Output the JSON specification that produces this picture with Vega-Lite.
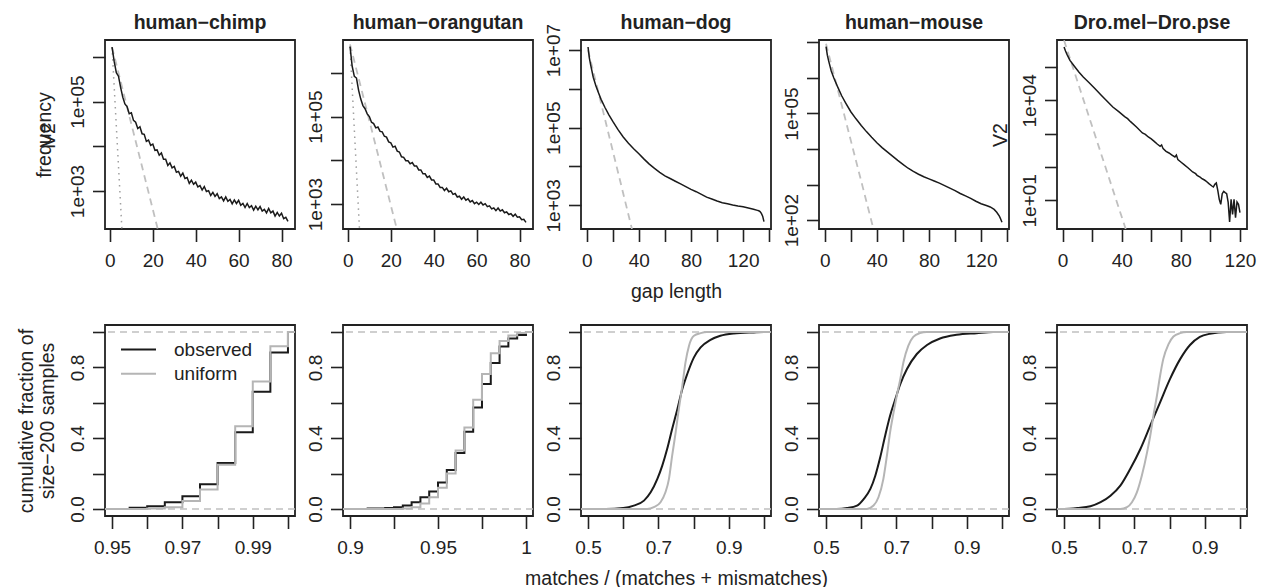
{
"$schema": "https://vega.github.io/schema/vega-lite/v6.json",
"padding": {"left": 15, "top": 11, "right": 5, "bottom": 3},
"background": "white",
"datasets": {
"gaps": [
{"p":"hc","x":1,"y":1660000},{"p":"hc","x":2,"y":794000},{"p":"hc","x":3,"y":447000},{"p":"hc","x":4,"y":372000},{"p":"hc","x":5,"y":209000},{"p":"hc","x":6,"y":126000},{"p":"hc","x":7,"y":89100},{"p":"hc","x":8,"y":77600},{"p":"hc","x":9,"y":53700},{"p":"hc","x":10,"y":56200},
{"p":"hc","x":11,"y":38000},{"p":"hc","x":12,"y":34700},{"p":"hc","x":13,"y":25100},{"p":"hc","x":14,"y":27500},{"p":"hc","x":15,"y":19100},{"p":"hc","x":16,"y":18600},{"p":"hc","x":17,"y":12900},{"p":"hc","x":18,"y":13800},{"p":"hc","x":19,"y":10500},{"p":"hc","x":20,"y":11200},
{"p":"hc","x":21,"y":8130},{"p":"hc","x":22,"y":8320},{"p":"hc","x":23,"y":6310},{"p":"hc","x":24,"y":7080},{"p":"hc","x":25,"y":5130},{"p":"hc","x":26,"y":5130},{"p":"hc","x":27,"y":3720},{"p":"hc","x":28,"y":4270},{"p":"hc","x":29,"y":3310},{"p":"hc","x":30,"y":3550},
{"p":"hc","x":31,"y":2630},{"p":"hc","x":32,"y":2750},{"p":"hc","x":33,"y":2140},{"p":"hc","x":34,"y":2510},{"p":"hc","x":35,"y":1910},{"p":"hc","x":36,"y":2000},{"p":"hc","x":37,"y":1480},{"p":"hc","x":38,"y":1740},{"p":"hc","x":39,"y":1410},{"p":"hc","x":40,"y":1580},
{"p":"hc","x":41,"y":1230},{"p":"hc","x":42,"y":1320},{"p":"hc","x":43,"y":1050},{"p":"hc","x":44,"y":1260},{"p":"hc","x":45,"y":977},{"p":"hc","x":46,"y":1020},{"p":"hc","x":47,"y":794},{"p":"hc","x":48,"y":933},{"p":"hc","x":49,"y":759},{"p":"hc","x":50,"y":871},
{"p":"hc","x":51,"y":676},{"p":"hc","x":52,"y":741},{"p":"hc","x":53,"y":603},{"p":"hc","x":54,"y":741},{"p":"hc","x":55,"y":589},{"p":"hc","x":56,"y":646},{"p":"hc","x":57,"y":513},{"p":"hc","x":58,"y":631},{"p":"hc","x":59,"y":525},{"p":"hc","x":60,"y":617},
{"p":"hc","x":61,"y":479},{"p":"hc","x":62,"y":525},{"p":"hc","x":63,"y":427},{"p":"hc","x":64,"y":525},{"p":"hc","x":65,"y":427},{"p":"hc","x":66,"y":468},{"p":"hc","x":67,"y":372},{"p":"hc","x":68,"y":457},{"p":"hc","x":69,"y":380},{"p":"hc","x":70,"y":447},
{"p":"hc","x":71,"y":355},{"p":"hc","x":72,"y":389},{"p":"hc","x":73,"y":324},{"p":"hc","x":74,"y":407},{"p":"hc","x":75,"y":324},{"p":"hc","x":76,"y":355},{"p":"hc","x":77,"y":275},{"p":"hc","x":78,"y":331},{"p":"hc","x":79,"y":275},{"p":"hc","x":80,"y":316},
{"p":"hc","x":81,"y":240},{"p":"hc","x":82,"y":257},{"p":"hc","x":83,"y":209},
{"p":"ho","x":1,"y":3980000},{"p":"ho","x":2,"y":1410000},{"p":"ho","x":3,"y":832000},{"p":"ho","x":4,"y":759000},{"p":"ho","x":5,"y":398000},{"p":"ho","x":6,"y":251000},{"p":"ho","x":7,"y":178000},{"p":"ho","x":8,"y":151000},{"p":"ho","x":9,"y":115000},{"p":"ho","x":10,"y":100000},
{"p":"ho","x":11,"y":74100},{"p":"ho","x":12,"y":69200},{"p":"ho","x":13,"y":55000},{"p":"ho","x":14,"y":57500},{"p":"ho","x":15,"y":45700},{"p":"ho","x":16,"y":44700},{"p":"ho","x":17,"y":35500},{"p":"ho","x":18,"y":33900},{"p":"ho","x":19,"y":26300},{"p":"ho","x":20,"y":25100},
{"p":"ho","x":21,"y":20000},{"p":"ho","x":22,"y":20900},{"p":"ho","x":23,"y":16200},{"p":"ho","x":24,"y":15500},{"p":"ho","x":25,"y":12000},{"p":"ho","x":26,"y":11700},{"p":"ho","x":27,"y":9770},{"p":"ho","x":28,"y":9770},{"p":"ho","x":29,"y":8320},{"p":"ho","x":30,"y":8910},
{"p":"ho","x":31,"y":7410},{"p":"ho","x":32,"y":7410},{"p":"ho","x":33,"y":6030},{"p":"ho","x":34,"y":6030},{"p":"ho","x":35,"y":4900},{"p":"ho","x":36,"y":4900},{"p":"ho","x":37,"y":4070},{"p":"ho","x":38,"y":4370},{"p":"ho","x":39,"y":3550},{"p":"ho","x":40,"y":3550},
{"p":"ho","x":41,"y":2880},{"p":"ho","x":42,"y":2880},{"p":"ho","x":43,"y":2400},{"p":"ho","x":44,"y":2400},{"p":"ho","x":45,"y":2040},{"p":"ho","x":46,"y":2290},{"p":"ho","x":47,"y":1910},{"p":"ho","x":48,"y":2000},{"p":"ho","x":49,"y":1660},{"p":"ho","x":50,"y":1740},
{"p":"ho","x":51,"y":1450},{"p":"ho","x":52,"y":1510},{"p":"ho","x":53,"y":1290},{"p":"ho","x":54,"y":1450},{"p":"ho","x":55,"y":1230},{"p":"ho","x":56,"y":1320},{"p":"ho","x":57,"y":1120},{"p":"ho","x":58,"y":1200},{"p":"ho","x":59,"y":1020},{"p":"ho","x":60,"y":1100},
{"p":"ho","x":61,"y":977},{"p":"ho","x":62,"y":1100},{"p":"ho","x":63,"y":955},{"p":"ho","x":64,"y":1020},{"p":"ho","x":65,"y":871},{"p":"ho","x":66,"y":912},{"p":"ho","x":67,"y":776},{"p":"ho","x":68,"y":813},{"p":"ho","x":69,"y":708},{"p":"ho","x":70,"y":813},
{"p":"ho","x":71,"y":692},{"p":"ho","x":72,"y":741},{"p":"ho","x":73,"y":631},{"p":"ho","x":74,"y":661},{"p":"ho","x":75,"y":575},{"p":"ho","x":76,"y":603},{"p":"ho","x":77,"y":525},{"p":"ho","x":78,"y":589},{"p":"ho","x":79,"y":501},{"p":"ho","x":80,"y":513},
{"p":"ho","x":81,"y":437},{"p":"ho","x":82,"y":447},{"p":"ho","x":83,"y":380},
{"p":"hd","x":1,"y":12000000},{"p":"hd","x":2,"y":6310000},{"p":"hd","x":3,"y":4170000},{"p":"hd","x":5,"y":2000000},{"p":"hd","x":7,"y":1200000},{"p":"hd","x":9,"y":794000},{"p":"hd","x":11,"y":537000},{"p":"hd","x":14,"y":331000},{"p":"hd","x":17,"y":214000},{"p":"hd","x":20,"y":145000},
{"p":"hd","x":24,"y":89100},{"p":"hd","x":28,"y":57500},{"p":"hd","x":32,"y":39800},{"p":"hd","x":36,"y":28800},{"p":"hd","x":40,"y":21400},{"p":"hd","x":44,"y":15500},{"p":"hd","x":48,"y":11500},{"p":"hd","x":52,"y":8910},{"p":"hd","x":56,"y":7080},{"p":"hd","x":60,"y":5750},
{"p":"hd","x":64,"y":4900},{"p":"hd","x":68,"y":4170},{"p":"hd","x":72,"y":3550},{"p":"hd","x":76,"y":3020},{"p":"hd","x":80,"y":2570},{"p":"hd","x":84,"y":2240},{"p":"hd","x":88,"y":1910},{"p":"hd","x":92,"y":1620},{"p":"hd","x":96,"y":1450},{"p":"hd","x":100,"y":1290},
{"p":"hd","x":104,"y":1170},{"p":"hd","x":108,"y":1100},{"p":"hd","x":112,"y":1020},{"p":"hd","x":116,"y":955},{"p":"hd","x":120,"y":912},{"p":"hd","x":124,"y":851},{"p":"hd","x":128,"y":794},{"p":"hd","x":131,"y":741},{"p":"hd","x":132,"y":724},{"p":"hd","x":133,"y":692},
{"p":"hd","x":134,"y":617},{"p":"hd","x":135,"y":525},{"p":"hd","x":136,"y":380},
{"p":"hm","x":1,"y":7590000},{"p":"hm","x":2,"y":4370000},{"p":"hm","x":3,"y":3020000},{"p":"hm","x":5,"y":1580000},{"p":"hm","x":7,"y":1000000},{"p":"hm","x":10,"y":550000},{"p":"hm","x":13,"y":316000},{"p":"hm","x":16,"y":200000},{"p":"hm","x":20,"y":112000},{"p":"hm","x":24,"y":70800},
{"p":"hm","x":28,"y":45700},{"p":"hm","x":32,"y":30900},{"p":"hm","x":36,"y":21400},{"p":"hm","x":40,"y":15100},{"p":"hm","x":44,"y":11000},{"p":"hm","x":48,"y":8320},{"p":"hm","x":52,"y":6310},{"p":"hm","x":56,"y":4790},{"p":"hm","x":60,"y":3720},{"p":"hm","x":64,"y":2880},
{"p":"hm","x":68,"y":2340},{"p":"hm","x":72,"y":1950},{"p":"hm","x":76,"y":1660},{"p":"hm","x":80,"y":1450},{"p":"hm","x":84,"y":1260},{"p":"hm","x":88,"y":1100},{"p":"hm","x":92,"y":933},{"p":"hm","x":96,"y":794},{"p":"hm","x":100,"y":676},{"p":"hm","x":104,"y":562},
{"p":"hm","x":108,"y":479},{"p":"hm","x":112,"y":407},{"p":"hm","x":116,"y":339},{"p":"hm","x":120,"y":288},{"p":"hm","x":124,"y":257},{"p":"hm","x":127,"y":234},{"p":"hm","x":130,"y":200},{"p":"hm","x":132,"y":166},{"p":"hm","x":134,"y":129},{"p":"hm","x":135,"y":107},
{"p":"hm","x":136,"y":87.1},
{"p":"dd","x":1,"y":398000},{"p":"dd","x":2,"y":302000},{"p":"dd","x":3,"y":240000},{"p":"dd","x":5,"y":158000},{"p":"dd","x":8,"y":105000},{"p":"dd","x":11,"y":70800},{"p":"dd","x":14,"y":50100},{"p":"dd","x":18,"y":33900},{"p":"dd","x":22,"y":22400},{"p":"dd","x":26,"y":14500},
{"p":"dd","x":30,"y":9550},{"p":"dd","x":34,"y":6310},{"p":"dd","x":38,"y":4570},{"p":"dd","x":42,"y":3240},{"p":"dd","x":44,"y":2820},{"p":"dd","x":46,"y":2290},{"p":"dd","x":50,"y":1580},{"p":"dd","x":54,"y":1050},{"p":"dd","x":56,"y":955},{"p":"dd","x":58,"y":794},
{"p":"dd","x":60,"y":700},{"p":"dd","x":62,"y":589},{"p":"dd","x":64,"y":490},{"p":"dd","x":66,"y":417},{"p":"dd","x":67,"y":457},{"p":"dd","x":68,"y":355},{"p":"dd","x":70,"y":295},{"p":"dd","x":72,"y":263},{"p":"dd","x":74,"y":229},{"p":"dd","x":76,"y":200},
{"p":"dd","x":77,"y":229},{"p":"dd","x":78,"y":166},{"p":"dd","x":80,"y":141},{"p":"dd","x":82,"y":120},{"p":"dd","x":85,"y":93.3},{"p":"dd","x":88,"y":70.8},{"p":"dd","x":90,"y":63.1},{"p":"dd","x":91,"y":56.2},{"p":"dd","x":93,"y":50.1},{"p":"dd","x":94,"y":45.7},
{"p":"dd","x":96,"y":40.7},{"p":"dd","x":97,"y":38.0},{"p":"dd","x":99,"y":31.6},{"p":"dd","x":101,"y":26.9},{"p":"dd","x":102,"y":25.1},{"p":"dd","x":103,"y":30.2},{"p":"dd","x":104,"y":33.1},{"p":"dd","x":105,"y":20.0},{"p":"dd","x":106,"y":10.7},{"p":"dd","x":107,"y":7.59},
{"p":"dd","x":108,"y":15.8},{"p":"dd","x":109,"y":18.6},{"p":"dd","x":110,"y":17.0},{"p":"dd","x":111,"y":15.8},{"p":"dd","x":112,"y":8.91},{"p":"dd","x":113,"y":2.24},{"p":"dd","x":114,"y":10.7},{"p":"dd","x":115,"y":3.80},{"p":"dd","x":116,"y":10.7},{"p":"dd","x":117,"y":3.02},
{"p":"dd","x":118,"y":8.91},{"p":"dd","x":119,"y":7.59},{"p":"dd","x":120,"y":4.27}
],
"fits": [
{"p":"hc","k":"dashed","x":1,"y":1660000},{"p":"hc","k":"dashed","x":22.3,"y":141},
{"p":"hc","k":"dotted","x":1,"y":1660000},{"p":"hc","k":"dotted","x":5.6,"y":141},
{"p":"ho","k":"dashed","x":1,"y":4470000},{"p":"ho","k":"dashed","x":22.8,"y":269},
{"p":"ho","k":"dotted","x":1,"y":3980000},{"p":"ho","k":"dotted","x":5.4,"y":269},
{"p":"hd","k":"dashed","x":1,"y":10000000},{"p":"hd","k":"dashed","x":34.7,"y":245},
{"p":"hm","k":"dashed","x":1,"y":9120000},{"p":"hm","k":"dashed","x":37.4,"y":56.2},
{"p":"dd","k":"dashed","x":1,"y":631000},{"p":"dd","k":"dashed","x":42.7,"y":1.38}
],
"cdf": [
{"p":"hc","s":"observed","x":0.948,"y":0},{"p":"hc","s":"observed","x":0.955,"y":0.006},{"p":"hc","s":"observed","x":0.96,"y":0.015},{"p":"hc","s":"observed","x":0.965,"y":0.038},{"p":"hc","s":"observed","x":0.97,"y":0.072},{"p":"hc","s":"observed","x":0.975,"y":0.14},{"p":"hc","s":"observed","x":0.98,"y":0.26},{"p":"hc","s":"observed","x":0.985,"y":0.433},{"p":"hc","s":"observed","x":0.99,"y":0.663},{"p":"hc","s":"observed","x":0.995,"y":0.885},{"p":"hc","s":"observed","x":1.0,"y":1.0},{"p":"hc","s":"observed","x":1.002,"y":1.0},
{"p":"hc","s":"uniform","x":0.948,"y":0},{"p":"hc","s":"uniform","x":0.96,"y":0.003},{"p":"hc","s":"uniform","x":0.965,"y":0.01},{"p":"hc","s":"uniform","x":0.97,"y":0.045},{"p":"hc","s":"uniform","x":0.975,"y":0.11},{"p":"hc","s":"uniform","x":0.98,"y":0.25},{"p":"hc","s":"uniform","x":0.985,"y":0.467},{"p":"hc","s":"uniform","x":0.99,"y":0.72},{"p":"hc","s":"uniform","x":0.995,"y":0.92},{"p":"hc","s":"uniform","x":1.0,"y":1.0},{"p":"hc","s":"uniform","x":1.002,"y":1.0},
{"p":"ho","s":"observed","x":0.896,"y":0},{"p":"ho","s":"observed","x":0.91,"y":0.002},{"p":"ho","s":"observed","x":0.915,"y":0.003},{"p":"ho","s":"observed","x":0.92,"y":0.005},{"p":"ho","s":"observed","x":0.925,"y":0.01},{"p":"ho","s":"observed","x":0.93,"y":0.02},{"p":"ho","s":"observed","x":0.935,"y":0.038},{"p":"ho","s":"observed","x":0.94,"y":0.066},{"p":"ho","s":"observed","x":0.945,"y":0.098},{"p":"ho","s":"observed","x":0.95,"y":0.15},{"p":"ho","s":"observed","x":0.955,"y":0.22},{"p":"ho","s":"observed","x":0.96,"y":0.316},{"p":"ho","s":"observed","x":0.965,"y":0.437},{"p":"ho","s":"observed","x":0.97,"y":0.574},{"p":"ho","s":"observed","x":0.975,"y":0.706},{"p":"ho","s":"observed","x":0.98,"y":0.825},{"p":"ho","s":"observed","x":0.985,"y":0.918},{"p":"ho","s":"observed","x":0.99,"y":0.964},{"p":"ho","s":"observed","x":0.995,"y":0.983},{"p":"ho","s":"observed","x":1.0,"y":1.0},{"p":"ho","s":"observed","x":1.004,"y":1.0},
{"p":"ho","s":"uniform","x":0.896,"y":0},{"p":"ho","s":"uniform","x":0.93,"y":0.003},{"p":"ho","s":"uniform","x":0.935,"y":0.01},{"p":"ho","s":"uniform","x":0.94,"y":0.03},{"p":"ho","s":"uniform","x":0.945,"y":0.066},{"p":"ho","s":"uniform","x":0.95,"y":0.12},{"p":"ho","s":"uniform","x":0.955,"y":0.2},{"p":"ho","s":"uniform","x":0.96,"y":0.33},{"p":"ho","s":"uniform","x":0.965,"y":0.46},{"p":"ho","s":"uniform","x":0.97,"y":0.617},{"p":"ho","s":"uniform","x":0.975,"y":0.763},{"p":"ho","s":"uniform","x":0.98,"y":0.88},{"p":"ho","s":"uniform","x":0.985,"y":0.95},{"p":"ho","s":"uniform","x":0.99,"y":0.98},{"p":"ho","s":"uniform","x":0.995,"y":0.995},{"p":"ho","s":"uniform","x":1.0,"y":1.0},{"p":"ho","s":"uniform","x":1.004,"y":1.0},
{"p":"hd","s":"observed","x":0.48,"y":0},{"p":"hd","s":"observed","x":0.55,"y":0},{"p":"hd","s":"observed","x":0.6,"y":0.005},{"p":"hd","s":"observed","x":0.63,"y":0.019},{"p":"hd","s":"observed","x":0.659,"y":0.047},{"p":"hd","s":"observed","x":0.678,"y":0.094},{"p":"hd","s":"observed","x":0.697,"y":0.17},{"p":"hd","s":"observed","x":0.711,"y":0.245},{"p":"hd","s":"observed","x":0.725,"y":0.34},{"p":"hd","s":"observed","x":0.739,"y":0.452},{"p":"hd","s":"observed","x":0.754,"y":0.565},{"p":"hd","s":"observed","x":0.768,"y":0.678},{"p":"hd","s":"observed","x":0.782,"y":0.763},{"p":"hd","s":"observed","x":0.801,"y":0.857},{"p":"hd","s":"observed","x":0.82,"y":0.913},{"p":"hd","s":"observed","x":0.848,"y":0.956},{"p":"hd","s":"observed","x":0.876,"y":0.979},{"p":"hd","s":"observed","x":0.914,"y":0.992},{"p":"hd","s":"observed","x":0.971,"y":0.998},{"p":"hd","s":"observed","x":1.0,"y":1.0},{"p":"hd","s":"observed","x":1.02,"y":1.0},
{"p":"hd","s":"uniform","x":0.48,"y":0},{"p":"hd","s":"uniform","x":0.668,"y":0},{"p":"hd","s":"uniform","x":0.687,"y":0.01},{"p":"hd","s":"uniform","x":0.706,"y":0.038},{"p":"hd","s":"uniform","x":0.72,"y":0.094},{"p":"hd","s":"uniform","x":0.73,"y":0.17},{"p":"hd","s":"uniform","x":0.739,"y":0.3},{"p":"hd","s":"uniform","x":0.749,"y":0.433},{"p":"hd","s":"uniform","x":0.758,"y":0.565},{"p":"hd","s":"uniform","x":0.768,"y":0.697},{"p":"hd","s":"uniform","x":0.777,"y":0.829},{"p":"hd","s":"uniform","x":0.787,"y":0.923},{"p":"hd","s":"uniform","x":0.801,"y":0.979},{"p":"hd","s":"uniform","x":0.82,"y":0.994},{"p":"hd","s":"uniform","x":0.838,"y":1.0},{"p":"hd","s":"uniform","x":1.02,"y":1.0},
{"p":"hm","s":"observed","x":0.48,"y":0},{"p":"hm","s":"observed","x":0.53,"y":0},{"p":"hm","s":"observed","x":0.56,"y":0.005},{"p":"hm","s":"observed","x":0.588,"y":0.019},{"p":"hm","s":"observed","x":0.607,"y":0.056},{"p":"hm","s":"observed","x":0.626,"y":0.113},{"p":"hm","s":"observed","x":0.64,"y":0.188},{"p":"hm","s":"observed","x":0.654,"y":0.292},{"p":"hm","s":"observed","x":0.668,"y":0.414},{"p":"hm","s":"observed","x":0.682,"y":0.527},{"p":"hm","s":"observed","x":0.697,"y":0.621},{"p":"hm","s":"observed","x":0.711,"y":0.706},{"p":"hm","s":"observed","x":0.73,"y":0.791},{"p":"hm","s":"observed","x":0.758,"y":0.876},{"p":"hm","s":"observed","x":0.787,"y":0.927},{"p":"hm","s":"observed","x":0.824,"y":0.964},{"p":"hm","s":"observed","x":0.871,"y":0.985},{"p":"hm","s":"observed","x":0.928,"y":0.994},{"p":"hm","s":"observed","x":0.975,"y":1.0},{"p":"hm","s":"observed","x":1.02,"y":1.0},
{"p":"hm","s":"uniform","x":0.48,"y":0},{"p":"hm","s":"uniform","x":0.616,"y":0},{"p":"hm","s":"uniform","x":0.635,"y":0.019},{"p":"hm","s":"uniform","x":0.649,"y":0.066},{"p":"hm","s":"uniform","x":0.663,"y":0.17},{"p":"hm","s":"uniform","x":0.673,"y":0.301},{"p":"hm","s":"uniform","x":0.682,"y":0.433},{"p":"hm","s":"uniform","x":0.692,"y":0.546},{"p":"hm","s":"uniform","x":0.701,"y":0.64},{"p":"hm","s":"uniform","x":0.711,"y":0.734},{"p":"hm","s":"uniform","x":0.72,"y":0.829},{"p":"hm","s":"uniform","x":0.734,"y":0.923},{"p":"hm","s":"uniform","x":0.748,"y":0.973},{"p":"hm","s":"uniform","x":0.767,"y":0.994},{"p":"hm","s":"uniform","x":0.786,"y":1.0},{"p":"hm","s":"uniform","x":1.02,"y":1.0},
{"p":"dd","s":"observed","x":0.48,"y":0},{"p":"dd","s":"observed","x":0.5,"y":0},{"p":"dd","s":"observed","x":0.538,"y":0.005},{"p":"dd","s":"observed","x":0.575,"y":0.015},{"p":"dd","s":"observed","x":0.604,"y":0.038},{"p":"dd","s":"observed","x":0.632,"y":0.075},{"p":"dd","s":"observed","x":0.66,"y":0.132},{"p":"dd","s":"observed","x":0.688,"y":0.226},{"p":"dd","s":"observed","x":0.717,"y":0.339},{"p":"dd","s":"observed","x":0.745,"y":0.471},{"p":"dd","s":"observed","x":0.773,"y":0.603},{"p":"dd","s":"observed","x":0.801,"y":0.734},{"p":"dd","s":"observed","x":0.83,"y":0.847},{"p":"dd","s":"observed","x":0.858,"y":0.927},{"p":"dd","s":"observed","x":0.886,"y":0.973},{"p":"dd","s":"observed","x":0.914,"y":0.99},{"p":"dd","s":"observed","x":0.962,"y":1.0},{"p":"dd","s":"observed","x":1.02,"y":1.0},
{"p":"dd","s":"uniform","x":0.48,"y":0},{"p":"dd","s":"uniform","x":0.66,"y":0},{"p":"dd","s":"uniform","x":0.679,"y":0.01},{"p":"dd","s":"uniform","x":0.693,"y":0.038},{"p":"dd","s":"uniform","x":0.707,"y":0.094},{"p":"dd","s":"uniform","x":0.721,"y":0.188},{"p":"dd","s":"uniform","x":0.736,"y":0.32},{"p":"dd","s":"uniform","x":0.745,"y":0.414},{"p":"dd","s":"uniform","x":0.754,"y":0.527},{"p":"dd","s":"uniform","x":0.764,"y":0.64},{"p":"dd","s":"uniform","x":0.773,"y":0.753},{"p":"dd","s":"uniform","x":0.782,"y":0.847},{"p":"dd","s":"uniform","x":0.797,"y":0.932},{"p":"dd","s":"uniform","x":0.811,"y":0.975},{"p":"dd","s":"uniform","x":0.83,"y":0.994},{"p":"dd","s":"uniform","x":0.849,"y":1.0},{"p":"dd","s":"uniform","x":1.02,"y":1.0}
],
"levels": [{"y":0},{"y":1}]
},
"columns": 5,
"spacing": {"row": 96, "column": 48},
"bounds": "flush",
"resolve": {"scale": {"color": "independent"}},
"concat": [
{"width":190,"height":189,"title":"human−chimp",
 "resolve":{"axis":{"y":"independent"}},
 "encoding":{"x":{"field":"x","type":"quantitative","scale":{"domain":[-2.28,86.28],"nice":false,"zero":false},"axis":{"values":[0,20,40,60,80],"title":null}}},
 "layer":[
  {"data":{"name":"fits"},"transform":[{"filter":"datum.p=='hc' && datum.k=='dashed'"}],
   "mark":{"type":"line","color":"#c0c0c0","strokeWidth":1.8,"strokeDash":[7,5],"clip":true},
   "encoding":{"y":{"field":"y","type":"quantitative","scale":{"type":"log","domain":[141,2400000],"nice":false},"axis":null}}},
  {"data":{"name":"fits"},"transform":[{"filter":"datum.p=='hc' && datum.k=='dotted'"}],
   "mark":{"type":"line","color":"#a0a0a0","strokeWidth":1.5,"strokeDash":[1.5,4.5],"clip":true},
   "encoding":{"y":{"field":"y","type":"quantitative","scale":{"type":"log","domain":[141,2400000],"nice":false},"axis":{"orient":"left","title":"V2","titleX":-51,"titleY":94.5,"titleAngle":270,"titleAlign":"center","titleBaseline":"alphabetic","labels":false,"ticks":false,"domain":false}}}},
  {"data":{"name":"gaps"},"transform":[{"filter":"datum.p=='hc'"}],
   "mark":{"type":"line","color":"#1a1a1a","strokeWidth":1.5,"clip":true},
   "encoding":{"y":{"field":"y","type":"quantitative","scale":{"type":"log","domain":[141,2400000],"nice":false},"axis":{"orient":"left","values":[1000,10000,100000,1000000],"labelExpr":"datum.value == 100000 ? '1e+05' : datum.value == 1000 ? '1e+03' : ''","title":"frequency","titleX":-54.5,"titleY":94.5,"titleAngle":270,"titleAlign":"center","titleBaseline":"alphabetic"}}}}
 ]},
{"width":190,"height":189,"title":"human−orangutan",
 "encoding":{"x":{"field":"x","type":"quantitative","scale":{"domain":[-2.28,86.28],"nice":false,"zero":false},"axis":{"values":[0,20,40,60,80],"title":null}},
  "y":{"field":"y","type":"quantitative","scale":{"type":"log","domain":[269,5620000],"nice":false},"axis":{"values":[1000,10000,100000,1000000],"labelExpr":"datum.value == 100000 ? '1e+05' : datum.value == 1000 ? '1e+03' : ''","title":null}}},
 "layer":[
  {"data":{"name":"fits"},"transform":[{"filter":"datum.p=='ho' && datum.k=='dashed'"}],
   "mark":{"type":"line","color":"#c0c0c0","strokeWidth":1.8,"strokeDash":[7,5],"clip":true}},
  {"data":{"name":"fits"},"transform":[{"filter":"datum.p=='ho' && datum.k=='dotted'"}],
   "mark":{"type":"line","color":"#a0a0a0","strokeWidth":1.5,"strokeDash":[1.5,4.5],"clip":true}},
  {"data":{"name":"gaps"},"transform":[{"filter":"datum.p=='ho'"}],
   "mark":{"type":"line","color":"#1a1a1a","strokeWidth":1.5,"clip":true}}
 ]},
{"width":190,"height":189,"title":{"text":"human−dog","dy":17},
 "encoding":{"x":{"field":"x","type":"quantitative","scale":{"domain":[-4.4,141.4],"nice":false,"zero":false},"axis":{"values":[0,20,40,60,80,100,120,140],"labelExpr":"datum.value % 40 == 0 ? datum.label : ''","title":"gap length"}},
  "y":{"field":"y","type":"quantitative","scale":{"type":"log","domain":[245,18200000],"nice":false},"axis":{"values":[1000,10000,100000,1000000,10000000],"labelExpr":"datum.value == 10000000 ? '1e+07' : datum.value == 100000 ? '1e+05' : datum.value == 1000 ? '1e+03' : ''","title":null}}},
 "layer":[
  {"data":{"name":"fits"},"transform":[{"filter":"datum.p=='hd'"}],
   "mark":{"type":"line","color":"#c0c0c0","strokeWidth":1.8,"strokeDash":[7,5],"clip":true}},
  {"data":{"name":"gaps"},"transform":[{"filter":"datum.p=='hd'"}],
   "mark":{"type":"line","color":"#1a1a1a","strokeWidth":1.5,"clip":true}}
 ]},
{"width":190,"height":189,"title":"human−mouse",
 "encoding":{"x":{"field":"x","type":"quantitative","scale":{"domain":[-4.4,141.4],"nice":false,"zero":false},"axis":{"values":[0,20,40,60,80,100,120,140],"labelExpr":"datum.value % 40 == 0 ? datum.label : ''","title":null}},
  "y":{"field":"y","type":"quantitative","scale":{"type":"log","domain":[56.2,11700000],"nice":false},"axis":{"values":[100,1000,10000,100000,1000000,10000000],"labelExpr":"datum.value == 100000 ? '1e+05' : datum.value == 100 ? '1e+02' : ''","title":null}}},
 "layer":[
  {"data":{"name":"fits"},"transform":[{"filter":"datum.p=='hm'"}],
   "mark":{"type":"line","color":"#c0c0c0","strokeWidth":1.8,"strokeDash":[7,5],"clip":true}},
  {"data":{"name":"gaps"},"transform":[{"filter":"datum.p=='hm'"}],
   "mark":{"type":"line","color":"#1a1a1a","strokeWidth":1.5,"clip":true}}
 ]},
{"width":190,"height":189,"title":"Dro.mel−Dro.pse",
 "encoding":{"x":{"field":"x","type":"quantitative","scale":{"domain":[-3.76,124.76],"nice":false,"zero":false},"axis":{"values":[0,20,40,60,80,100,120],"labelExpr":"datum.value % 40 == 0 ? datum.label : ''","title":null}},
  "y":{"field":"y","type":"quantitative","scale":{"type":"log","domain":[1.38,646000],"nice":false},"axis":{"values":[10,100,1000,10000,100000],"labelExpr":"datum.value == 10000 ? '1e+04' : datum.value == 10 ? '1e+01' : ''","title":"V2","titleX":-51,"titleY":94.5,"titleAngle":270,"titleAlign":"center","titleBaseline":"alphabetic"}}},
 "layer":[
  {"data":{"name":"fits"},"transform":[{"filter":"datum.p=='dd'"}],
   "mark":{"type":"line","color":"#c0c0c0","strokeWidth":1.8,"strokeDash":[7,5],"clip":true}},
  {"data":{"name":"gaps"},"transform":[{"filter":"datum.p=='dd'"}],
   "mark":{"type":"line","color":"#1a1a1a","strokeWidth":1.5,"clip":true}}
 ]},
{"width":190,"height":191,
 "encoding":{"y":{"field":"y","type":"quantitative","scale":{"domain":[-0.04,1.04],"nice":false,"zero":false},"axis":{"values":[0,0.2,0.4,0.6,0.8,1],"labelExpr":"datum.value < 0.01 || abs(datum.value - 0.4) < 0.01 || abs(datum.value - 0.8) < 0.01 ? format(datum.value, '.1f') : ''","title":["cumulative fraction of","size−200 samples"],"titleX":-73,"titleY":95.5,"titleAngle":270,"titleAlign":"center","titleBaseline":"alphabetic","titleLineHeight":21}}},
 "layer":[
  {"data":{"name":"levels"},"mark":{"type":"rule","color":"#c0c0c0","strokeWidth":1.6,"strokeDash":[7,5]},"encoding":{}},
  {"data":{"name":"cdf"},"transform":[{"filter":"datum.p=='hc'"}],
   "mark":{"type":"line","interpolate":"step-after","strokeWidth":2,"clip":true},
   "encoding":{"x":{"field":"x","type":"quantitative","scale":{"domain":[0.948,1.002],"nice":false,"zero":false},"axis":{"values":[0.95,0.96,0.97,0.98,0.99,1.0],"labelExpr":"abs(datum.value - 0.95) < 0.001 || abs(datum.value - 0.97) < 0.001 || abs(datum.value - 0.99) < 0.001 ? format(datum.value, '.2f') : ''","title":null}},
    "color":{"field":"s","type":"nominal","scale":{"domain":["observed","uniform"],"range":["#1a1a1a","#b5b5b5"]},
     "legend":{"orient":"top-left","title":null,"symbolType":"stroke","symbolSize":1225,"symbolStrokeWidth":2,"labelFontSize":19,"labelColor":"#222","labelFont":"Liberation Sans","labelOffset":17,"clipHeight":19,"rowPadding":4.3,"offset":15,"padding":0}}}}
 ]},
{"width":190,"height":191,
 "encoding":{"y":{"field":"y","type":"quantitative","scale":{"domain":[-0.04,1.04],"nice":false,"zero":false},"axis":{"values":[0,0.2,0.4,0.6,0.8,1],"labelExpr":"datum.value < 0.01 || abs(datum.value - 0.4) < 0.01 || abs(datum.value - 0.8) < 0.01 ? format(datum.value, '.1f') : ''","title":null}}},
 "layer":[
  {"data":{"name":"levels"},"mark":{"type":"rule","color":"#c0c0c0","strokeWidth":1.6,"strokeDash":[7,5]},"encoding":{}},
  {"data":{"name":"cdf"},"transform":[{"filter":"datum.p=='ho'"}],
   "mark":{"type":"line","interpolate":"step-after","strokeWidth":2,"clip":true},
   "encoding":{"x":{"field":"x","type":"quantitative","scale":{"domain":[0.896,1.004],"nice":false,"zero":false},"axis":{"values":[0.9,0.925,0.95,0.975,1.0],"labelExpr":"abs(datum.value - 0.925) < 0.001 || abs(datum.value - 0.975) < 0.001 ? '' : format(datum.value, '.3~f')","title":null}},
    "color":{"field":"s","type":"nominal","scale":{"domain":["observed","uniform"],"range":["#1a1a1a","#b5b5b5"]},"legend":null}}}
 ]},
{"width":190,"height":191,
 "encoding":{"y":{"field":"y","type":"quantitative","scale":{"domain":[-0.04,1.04],"nice":false,"zero":false},"axis":{"values":[0,0.2,0.4,0.6,0.8,1],"labelExpr":"datum.value < 0.01 || abs(datum.value - 0.4) < 0.01 || abs(datum.value - 0.8) < 0.01 ? format(datum.value, '.1f') : ''","title":null}}},
 "layer":[
  {"data":{"name":"levels"},"mark":{"type":"rule","color":"#c0c0c0","strokeWidth":1.6,"strokeDash":[7,5]},"encoding":{}},
  {"data":{"name":"cdf"},"transform":[{"filter":"datum.p=='hd'"}],
   "mark":{"type":"line","interpolate":"monotone","strokeWidth":2,"clip":true},
   "encoding":{"x":{"field":"x","type":"quantitative","scale":{"domain":[0.48,1.02],"nice":false,"zero":false},"axis":{"values":[0.5,0.6,0.7,0.8,0.9,1.0],"labelExpr":"abs(datum.value - 0.5) < 0.001 || abs(datum.value - 0.7) < 0.001 || abs(datum.value - 0.9) < 0.001 ? format(datum.value, '.1f') : ''","title":"matches / (matches + mismatches)"}},
    "color":{"field":"s","type":"nominal","scale":{"domain":["observed","uniform"],"range":["#1a1a1a","#b5b5b5"]},"legend":null}}}
 ]},
{"width":190,"height":191,
 "encoding":{"y":{"field":"y","type":"quantitative","scale":{"domain":[-0.04,1.04],"nice":false,"zero":false},"axis":{"values":[0,0.2,0.4,0.6,0.8,1],"labelExpr":"datum.value < 0.01 || abs(datum.value - 0.4) < 0.01 || abs(datum.value - 0.8) < 0.01 ? format(datum.value, '.1f') : ''","title":null}}},
 "layer":[
  {"data":{"name":"levels"},"mark":{"type":"rule","color":"#c0c0c0","strokeWidth":1.6,"strokeDash":[7,5]},"encoding":{}},
  {"data":{"name":"cdf"},"transform":[{"filter":"datum.p=='hm'"}],
   "mark":{"type":"line","interpolate":"monotone","strokeWidth":2,"clip":true},
   "encoding":{"x":{"field":"x","type":"quantitative","scale":{"domain":[0.48,1.02],"nice":false,"zero":false},"axis":{"values":[0.5,0.6,0.7,0.8,0.9,1.0],"labelExpr":"abs(datum.value - 0.5) < 0.001 || abs(datum.value - 0.7) < 0.001 || abs(datum.value - 0.9) < 0.001 ? format(datum.value, '.1f') : ''","title":null}},
    "color":{"field":"s","type":"nominal","scale":{"domain":["observed","uniform"],"range":["#1a1a1a","#b5b5b5"]},"legend":null}}}
 ]},
{"width":190,"height":191,
 "encoding":{"y":{"field":"y","type":"quantitative","scale":{"domain":[-0.04,1.04],"nice":false,"zero":false},"axis":{"values":[0,0.2,0.4,0.6,0.8,1],"labelExpr":"datum.value < 0.01 || abs(datum.value - 0.4) < 0.01 || abs(datum.value - 0.8) < 0.01 ? format(datum.value, '.1f') : ''","title":null}}},
 "layer":[
  {"data":{"name":"levels"},"mark":{"type":"rule","color":"#c0c0c0","strokeWidth":1.6,"strokeDash":[7,5]},"encoding":{}},
  {"data":{"name":"cdf"},"transform":[{"filter":"datum.p=='dd'"}],
   "mark":{"type":"line","interpolate":"monotone","strokeWidth":2,"clip":true},
   "encoding":{"x":{"field":"x","type":"quantitative","scale":{"domain":[0.48,1.02],"nice":false,"zero":false},"axis":{"values":[0.5,0.6,0.7,0.8,0.9,1.0],"labelExpr":"abs(datum.value - 0.5) < 0.001 || abs(datum.value - 0.7) < 0.001 || abs(datum.value - 0.9) < 0.001 ? format(datum.value, '.1f') : ''","title":null}},
    "color":{"field":"s","type":"nominal","scale":{"domain":["observed","uniform"],"range":["#1a1a1a","#b5b5b5"]},"legend":null}}}
 ]}
],
"config": {
 "font": "Liberation Sans",
 "view": {"stroke": "#222", "strokeWidth": 1.8},
 "title": {"fontSize": 19.5, "fontWeight": "bold", "color": "#222", "offset": 7, "font": "Liberation Sans"},
 "axis": {"grid": false, "domain": false, "ticks": true, "tickColor": "#222", "tickWidth": 1.6, "tickSize": 12.5, "labelColor": "#222", "labelFontSize": 19, "labelFont": "Liberation Sans", "titleFont": "Liberation Sans", "titleFontSize": 19.5, "titleFontWeight": "normal", "titleColor": "#222", "labelOverlap": false, "labelFlush": false, "labelBound": false},
 "axisX": {"labelAngle": 0, "labelAlign": "center", "labelBaseline": "top", "labelPadding": 9.5, "titlePadding": 12},
 "axisY": {"labelAngle": 270, "labelAlign": "center", "labelBaseline": "alphabetic", "labelPadding": 9.5}
}
}
